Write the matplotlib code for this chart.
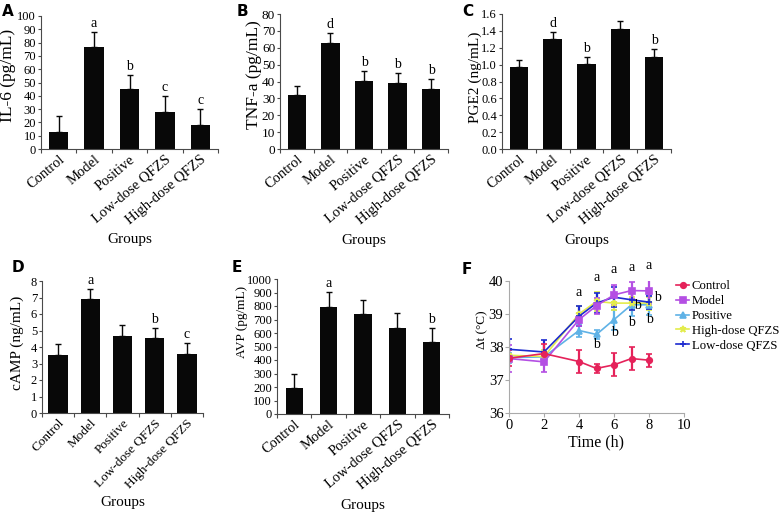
import numpy as np
import matplotlib
matplotlib.use("Agg")
import matplotlib.pyplot as plt
from matplotlib.lines import Line2D

plt.rcParams["font.family"] = ["Liberation Serif", "DejaVu Serif"]

# grupos
groups = ["Control", "Model", "Positive", "Low-dose QFZS", "High-dose QFZS"]

# A  IL-6
il6 = [13, 76.5, 45, 28, 18]
il6_err = [12, 11.5, 11, 11.5, 12]
il6_let = ["", "a", "b", "c", "c"]

# B  TNF-a
tnf = [31.9, 63.1, 40.4, 39, 35.4]
tnf_err = [5.5, 5.8, 5.9, 6, 6.3]
tnf_let = ["", "d", "b", "b", "b"]

# C  PGE2
pge2 = [0.968, 1.30, 1.004, 1.426, 1.094]
pge2_err = [0.087, 0.087, 0.09, 0.094, 0.091]
pge2_let = ["", "d", "b", "", "b"]

# D  cAMP
camp = [3.54, 6.91, 4.68, 4.56, 3.6]
camp_err = [0.64, 0.61, 0.67, 0.61, 0.62]
camp_let = ["", "a", "", "b", "c"]

# E  AVP
avp = [195, 793, 739, 638, 530]
avp_err = [105, 108, 103, 113, 105]
avp_let = ["", "a", "", "", "b"]

# F  temperatura
time_h = [0, 2, 4, 5, 6, 7, 8]
t_control = [37.66, 37.80, 37.56, 37.35, 37.46, 37.65, 37.60]
t_control_err = [0.25, 0.3, 0.35, 0.15, 0.35, 0.35, 0.2]
t_model = [37.65, 37.55, 38.83, 39.25, 39.58, 39.71, 39.70]
t_model_err = [0.4, 0.3, 0.2, 0.25, 0.3, 0.25, 0.4]
t_positive = [37.68, 37.70, 38.50, 38.38, 38.83, 39.28, 39.28]
t_positive_err = [0.15, 0.15, 0.2, 0.15, 0.3, 0.35, 0.3]
t_high = [37.75, 37.71, 39.00, 39.38, 39.33, 39.33, 39.33]
t_high_err = [0.2, 0.2, 0.25, 0.3, 0.2, 0.2, 0.2]
t_low = [37.93, 37.85, 38.93, 39.33, 39.51, 39.43, 39.36]
t_low_err = [0.3, 0.35, 0.3, 0.3, 0.3, 0.3, 0.2]

# letras del panel F
f_let_x = [4, 5, 6, 7, 8, 5, 6, 7, 8, 7.37, 8.5]
f_let_y = [39.45, 39.9, 40.15, 40.2, 40.27, 37.87, 38.25, 38.55, 38.63, 39.05, 39.3]
f_let_s = ["a", "a", "a", "a", "a", "b", "b", "b", "b", "b", "b"]

W, H = 781, 513
fig = plt.figure(figsize=(W / 100, H / 100), dpi=100)


def px_axes(left, right, top, bottom):
    return fig.add_axes([left / W, 1 - bottom / H, (right - left) / W, (bottom - top) / H])


axcol = "#4a4a4a"


def barras(ax, vals, errs, letters, ymax, step, ylabel, fmt="{:.0f}",
           ytick_fs=9, xtick_fs=10.5, rot=40, ylab_fs=11, ylab_pos=(-0.12, 0.55),
           bar_w=0.55):
    x = np.arange(len(groups))
    ax.bar(x, vals, width=bar_w, color="#080808", zorder=2)
    ax.errorbar(x, vals, yerr=[np.zeros(len(vals)), errs], fmt="none",
                ecolor="#080808", elinewidth=1, capsize=2.5, capthick=1, zorder=3)
    for xi, v, e, l in zip(x, vals, errs, letters):
        if l:
            ax.text(xi, v + e + ymax * 0.015, l, ha="center", va="bottom", fontsize=10)
    ax.set_xlim(-0.5, 4.5)
    ax.set_ylim(0, ymax)
    ticks = np.arange(0, ymax + step / 2, step)
    ax.set_yticks(ticks)
    ax.set_yticklabels([fmt.format(t) for t in ticks], fontsize=ytick_fs)
    # ticks entre categorias
    ax.set_xticks(np.arange(-0.5, 5, 1), minor=False)
    ax.set_xticklabels([])
    ax.set_xticks(x, minor=True)
    ax.set_xticklabels(groups, minor=True, rotation=rot, ha="right",
                       rotation_mode="anchor", fontsize=xtick_fs)
    ax.tick_params(axis="x", which="minor", length=0, pad=3)
    ax.tick_params(axis="x", which="major", length=3, direction="out", color=axcol)
    ax.tick_params(axis="y", length=2.5, direction="out", color=axcol, pad=1)
    for s in ["top", "right"]:
        ax.spines[s].set_visible(False)
    for s in ["left", "bottom"]:
        ax.spines[s].set_color(axcol)
    ax.set_ylabel(ylabel, fontsize=ylab_fs)
    ax.yaxis.set_label_coords(*ylab_pos)
    ax.set_xlabel("Groups", fontsize=11, va="top")
    ax.xaxis.set_label_coords(0.5, -0.63)


# A
axA = px_axes(41, 218, 16, 149)
barras(axA, il6, il6_err, il6_let, 100, 10, "IL-6 (pg/mL)",
       ylab_fs=12.5, ylab_pos=(-0.14, 0.55))
# B
axB = px_axes(280, 448, 14, 149)
barras(axB, tnf, tnf_err, tnf_let, 80, 10, "TNF-a (pg/mL)",
       ytick_fs=9.5, ylab_fs=12.5, ylab_pos=(-0.107, 0.55))
# C
axC = px_axes(502, 671, 14, 149)
barras(axC, pge2, pge2_err, pge2_let, 1.6, 0.2, "PGE2 (ng/mL)", fmt="{:.1f}",
       ylab_fs=11, ylab_pos=(-0.118, 0.53))
# D
axD = px_axes(42, 203, 281, 413)
barras(axD, camp, camp_err, camp_let, 8, 1, "cAMP (ng/mL)",
       ytick_fs=9, xtick_fs=9.5, rot=46, ylab_fs=11, ylab_pos=(-0.112, 0.53),
       bar_w=0.6)
# E
axE = px_axes(277, 449, 279, 414)
barras(axE, avp, avp_err, avp_let, 1000, 100, "AVP (pg/mL)",
       ytick_fs=9, xtick_fs=10.5, ylab_fs=9.5, ylab_pos=(-0.169, 0.68),
       bar_w=0.5)

# F
axF = px_axes(509, 684, 281, 413)
series = [
    ("Control", t_control, t_control_err, "#e5225a", "o", 4),
    ("Model", t_model, t_model_err, "#b44fe3", "s", 4),
    ("Positive", t_positive, t_positive_err, "#5fb2e6", "^", 4),
    ("High-dose QFZS", t_high, t_high_err, "#e3ec4c", "*", 5),
    ("Low-dose QFZS", t_low, t_low_err, "#1d2bd0", "+", 5),
]
# control encima
for name, y, e, c, m, ms in [series[i] for i in [2, 3, 4, 1, 0]]:
    axF.errorbar(time_h, y, yerr=e, color=c, marker=m, markersize=ms,
                 linewidth=1.2, elinewidth=1.6, capsize=2.5, capthick=1.6,
                 markeredgewidth=1.2)
for xx, yy, ss in zip(f_let_x, f_let_y, f_let_s):
    axF.text(xx, yy, ss, ha="center", va="bottom", fontsize=10, clip_on=False)
axF.set_xlim(0, 10)
axF.set_ylim(36, 40)
axF.set_xticks(range(0, 11, 2))
axF.set_yticks(range(36, 41))
axF.tick_params(labelsize=10.5, length=3, color="#aaaaaa", pad=1)
for s in ["top", "right"]:
    axF.spines[s].set_visible(False)
for s in ["left", "bottom"]:
    axF.spines[s].set_color("#aaaaaa")
axF.set_ylabel("\u0394t (\u00b0C)", fontsize=9.5)
axF.yaxis.set_label_coords(-0.12, 0.63)
axF.set_xlabel("Time (h)", fontsize=11.5, labelpad=2)

# leyenda solo con linea y marcador
handles = [Line2D([], [], color=c, marker=m, markersize=ms, linewidth=1.2,
                  markeredgewidth=1.2) for _, _, _, c, m, ms in series]
labels = [s[0] for s in series]
fig.legend(handles, labels, loc="upper left",
           bbox_to_anchor=(670 / W, 1 - 274 / H), frameon=False, fontsize=9.2,
           handlelength=1.0, handletextpad=0.2, labelspacing=0.22, borderpad=0)

# letras de panel
for lt, xx, yy in [("A", 2, 12), ("B", 237, 12), ("C", 462, 12),
                   ("D", 12, 268), ("E", 232, 268), ("F", 462, 270)]:
    fig.text(xx / W, 1 - yy / H, lt, fontsize=11, fontweight="bold",
             family="DejaVu Sans", va="center", ha="left")

plt.savefig("out.png", dpi=100)
